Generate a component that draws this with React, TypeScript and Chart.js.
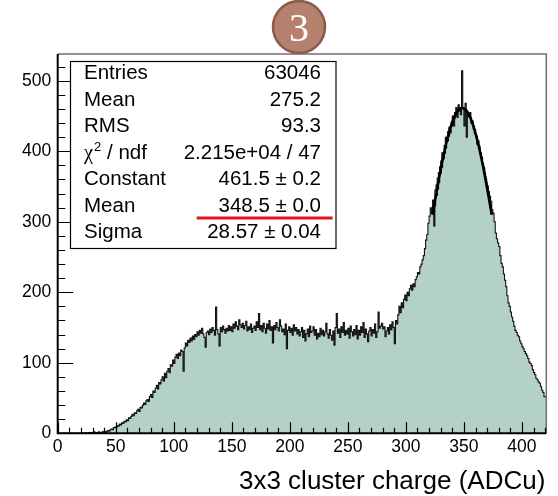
import { useEffect, useRef } from "react";
import { Chart, registerables } from "chart.js";

Chart.register(...registerables);

// Histogram: one bin per ADC count, starting at 0
const binLow = 0;
const binWidth = 1;
const counts: number[] = [
  0, 0, 0, 0, 0, 0, 0, 0, 0, 0,
  0, 0, 0, 0, 0, 0, 0, 0, 0, 0,
  0, 0, 0, 0, 0, 1, 0, 0, 1, 0,
  1, 0, 2, 1, 0, 1, 2, 0, 1, 2,
  2, 3, 1, 3, 4, 3, 5, 6, 5, 8,
  9, 8, 11, 10, 13, 12, 15, 14, 17, 16,
  19, 18, 22, 21, 24, 27, 25, 29, 28, 32,
  34, 31, 37, 36, 40, 43, 41, 46, 48, 45,
  52, 55, 51, 60, 58, 64, 68, 63, 72, 70,
  76, 80, 74, 85, 79, 88, 92, 86, 97, 95,
  104, 99, 108, 112, 106, 114, 110, 118, 116, 88,
  121, 128, 124, 132, 129, 135, 131, 138, 133, 140,
  137, 144, 139, 146, 142, 149, 141, 136, 122, 143,
  145, 140, 148, 143, 150, 146, 139, 179, 147, 141,
  124, 150, 144, 152, 147, 142, 149, 145, 153, 146,
  151, 144, 155, 149, 158, 152, 147, 161, 154, 150,
  156, 148, 153, 159, 145, 151, 147, 155, 143, 149,
  152, 146, 158, 150, 170, 147, 153, 144, 156, 149,
  142, 155, 148, 160, 146, 151, 128, 153, 147, 157,
  150, 145, 161, 152, 144, 148, 140, 155, 120, 146,
  151, 143, 149, 139, 154, 145, 150, 141, 147, 138,
  144, 150, 136, 146, 131, 141, 148, 137, 152, 143,
  145, 151, 139, 147, 134, 142, 137, 149, 140, 146,
  138, 144, 156, 141, 135, 147, 139, 132, 145, 125,
  150, 170, 142, 148, 136, 151, 143, 157, 139, 146,
  141, 149, 135, 152, 144, 138, 147, 140, 153, 134,
  146, 139, 151, 143, 157, 136, 148, 141, 130, 145,
  150, 138, 147, 142, 155, 136, 144, 172, 149, 152,
  156, 148, 151, 137, 145, 150, 141, 154, 147, 158,
  150, 127, 160, 155, 168, 180, 171, 185, 178, 190,
  196, 188, 200, 195, 205, 210, 203, 212, 208, 218,
  222, 228, 226, 236, 240, 246, 252, 262, 274, 282,
  298, 308, 320, 312, 331, 294, 345, 352, 362, 370,
  378, 386, 398, 392, 408, 420, 414, 428, 434, 426,
  441, 450, 436, 455, 462, 448, 466, 459, 452, 514,
  461, 436, 468, 420, 452, 449, 455, 440, 443, 432,
  425, 421, 410, 414, 406, 398, 392, 383, 376, 365,
  356, 351, 343, 336, 329, 317, 312, 300, 284, 276,
  270, 265, 252, 241, 236, 226, 217, 208, 195, 185,
  180, 172, 165, 159, 152, 146, 143, 139, 137, 131,
  127, 123, 120, 116, 113, 110, 106, 101, 99, 96,
  90, 86, 83, 78, 76, 73, 71, 66, 61, 58,
  52,
];

// Axis ranges and ticks
const xMin = 0;
const xMax = 421;
const yMin = 0;
const yMax = 538;
const xMajorTicks = [0, 50, 100, 150, 200, 250, 300, 350, 400];
const yMajorTicks = [0, 100, 200, 300, 400, 500];
const xMinorStep = 10;
const yMinorStep = 20;
const xTitle = "3x3 cluster charge (ADCu)";

// Gaussian fit parameters and range
const fitConstant = 461.5;
const fitMean = 348.5;
const fitSigma = 28.57;
const fitLow = 323;
const fitHigh = 374;

// Statistics box
const statsLabels = ["Entries", "Mean", "RMS", "χ2 / ndf", "Constant", "Mean", "Sigma"];
const statsValues = ["63046", "275.2", "93.3", "2.215e+04 / 47", "461.5 ± 0.2", "348.5 ± 0.0", "28.57 ± 0.04"];
const underlinedRow = 5;

const badgeText = "3";

const W = 558;
const H = 496;
const AREA = { left: 57.7, top: 54, right: 546.3, bottom: 433.3 };
const SANS = '"Liberation Sans", Arial, Helvetica, sans-serif';

const overlay = {
  id: "rootStyle",
  afterDraw(chart: any) {
    const ctx: CanvasRenderingContext2D = chart.ctx;
    const xs = chart.scales.x;
    const ys = chart.scales.y;
    const { left, right, top, bottom } = chart.chartArea;
    ctx.save();

    // frame: grey top/right, black axes
    ctx.strokeStyle = "#707070";
    ctx.lineWidth = 1.5;
    ctx.beginPath();
    ctx.moveTo(left, top);
    ctx.lineTo(right, top);
    ctx.lineTo(right, bottom);
    ctx.stroke();

    ctx.strokeStyle = "#000";
    ctx.lineWidth = 1.2;
    // x ticks (pointing up into the plot)
    ctx.beginPath();
    for (let v = xMin; v <= xMax; v += xMinorStep) {
      const px = Math.round(xs.getPixelForValue(v)) + 0.5;
      const len = v % 50 === 0 ? 11 : 5.5;
      ctx.moveTo(px, bottom);
      ctx.lineTo(px, bottom - len);
    }
    // y ticks (pointing right into the plot)
    for (let v = yMin; v <= yMax; v += yMinorStep) {
      const py = Math.round(ys.getPixelForValue(v)) + 0.5;
      const len = v % 100 === 0 ? 15.5 : 7.5;
      ctx.moveTo(left, py);
      ctx.lineTo(left + len, py);
    }
    ctx.stroke();

    ctx.lineWidth = 2;
    ctx.beginPath();
    ctx.moveTo(left, top);
    ctx.lineTo(left, bottom);
    ctx.lineTo(right, bottom);
    ctx.stroke();

    // tick labels
    ctx.fillStyle = "#000";
    ctx.font = `17.5px ${SANS}`;
    ctx.textAlign = "right";
    ctx.textBaseline = "middle";
    yMajorTicks.forEach((v) => {
      ctx.fillText(String(v), left - 6.5, ys.getPixelForValue(v));
    });
    ctx.textAlign = "center";
    xMajorTicks.forEach((v) => {
      ctx.fillText(String(v), xs.getPixelForValue(v), bottom + 14);
    });

    // axis title
    ctx.font = `26px ${SANS}`;
    ctx.textAlign = "right";
    ctx.textBaseline = "alphabetic";
    ctx.fillText(xTitle, right - 1, 489);

    // statistics box
    const bx = 70.5, by = 61.5, bw = 265.5, bh = 187;
    ctx.fillStyle = "#fff";
    ctx.fillRect(bx, by, bw, bh);
    ctx.strokeStyle = "#000";
    ctx.lineWidth = 1.2;
    ctx.strokeRect(bx, by, bw, bh);

    ctx.fillStyle = "#000";
    ctx.textBaseline = "middle";
    const rowY = (i: number) => 73.5 + 26.5 * i;
    statsLabels.forEach((lab, i) => {
      const y = rowY(i);
      ctx.textAlign = "left";
      if (lab.startsWith("χ2")) {
        ctx.font = `20.5px "Liberation Serif", serif`;
        ctx.fillText("χ", 84, y + 1);
        const wChi = ctx.measureText("χ").width;
        ctx.font = `13px ${SANS}`;
        ctx.fillText("2", 84 + wChi + 1, y - 6);
        const w2 = ctx.measureText("2").width;
        ctx.font = `20.5px ${SANS}`;
        ctx.fillText(lab.slice(2), 84 + wChi + 1 + w2, y);
      } else {
        ctx.font = `20.5px ${SANS}`;
        ctx.fillText(lab, 84, y);
      }
      ctx.font = `20.5px ${SANS}`;
      ctx.textAlign = "right";
      ctx.fillText(statsValues[i], 321, y);
    });

    // red underline under the fitted mean
    ctx.fillStyle = "#e3141c";
    ctx.fillRect(196.7, rowY(underlinedRow) + 10.5, 136, 3);

    // numbered badge
    const cx = 299, cy = 27, r = 26;
    ctx.beginPath();
    ctx.arc(cx, cy, r, 0, Math.PI * 2);
    ctx.fillStyle = "#b5806d";
    ctx.fill();
    ctx.lineWidth = 2.5;
    ctx.strokeStyle = "#8c5a48";
    ctx.stroke();
    ctx.fillStyle = "#fff";
    ctx.font = `40px "Liberation Serif", "Times New Roman", serif`;
    ctx.textAlign = "center";
    ctx.textBaseline = "alphabetic";
    ctx.fillText(badgeText, cx, cy + 14);

    ctx.restore();
  },
};

export default function App() {
  const ref = useRef<HTMLCanvasElement | null>(null);

  useEffect(() => {
    if (!ref.current) return;
    const histPoints = counts.map((c, i) => ({ x: binLow + i * binWidth, y: c }));
    histPoints.push({ x: binLow + counts.length * binWidth, y: counts[counts.length - 1] });

    const fitPoints: { x: number; y: number }[] = [];
    for (let x = fitLow; x <= fitHigh + 1e-9; x += 0.5) {
      const t = (x - fitMean) / fitSigma;
      fitPoints.push({ x, y: fitConstant * Math.exp(-0.5 * t * t) });
    }

    const chart = new Chart(ref.current, {
      type: "line",
      data: {
        datasets: [
          {
            data: fitPoints,
            borderColor: "#000",
            borderWidth: 2.6,
            pointRadius: 0,
            fill: false,
            tension: 0,
          },
          {
            data: histPoints,
            stepped: "after",
            borderColor: "#111",
            borderWidth: 1.1,
            backgroundColor: "#b3d1c7",
            fill: "origin",
            pointRadius: 0,
          },
        ],
      },
      options: {
        animation: false,
        responsive: false,
        maintainAspectRatio: false,
        devicePixelRatio: 1,
        parsing: false,
        normalized: true,
        events: [],
        layout: { padding: { left: 0, top: AREA.top, right: W - AREA.right, bottom: 0 } },
        plugins: { legend: { display: false }, tooltip: { enabled: false }, title: { display: false } },
        scales: {
          x: {
            type: "linear",
            min: xMin,
            max: xMax,
            grid: { display: false },
            border: { display: false },
            ticks: { display: false },
            afterFit: (s: any) => {
              s.height = H - AREA.bottom;
            },
          },
          y: {
            type: "linear",
            min: yMin,
            max: yMax,
            grid: { display: false },
            border: { display: false },
            ticks: { display: false },
            afterFit: (s: any) => {
              s.width = AREA.left;
            },
          },
        },
      },
      plugins: [overlay],
    });
    return () => chart.destroy();
  }, []);

  return (
    <div style={{ position: "fixed", left: 0, top: 0, width: W, height: H, background: "#fff" }}>
      <canvas ref={ref} width={W} height={H} style={{ display: "block", width: W, height: H }} />
    </div>
  );
}
